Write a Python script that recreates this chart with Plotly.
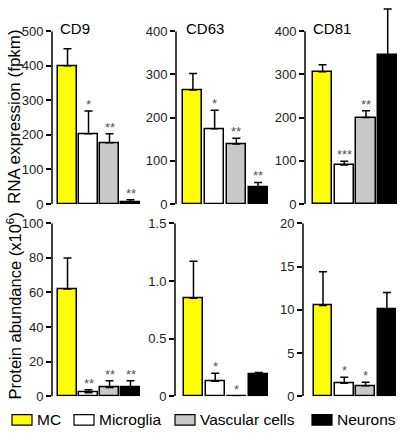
import plotly.graph_objects as go

W, H = 400, 438

categories = ["MC", "Microglia", "Vascular cells", "Neurons"]
colors = ["#FFFF00", "#FFFFFF", "#C8C8C8", "#000000"]

# RNA expression (fpkm)
cd9_rna = [400, 203, 177, 6]
cd9_rna_err = [49, 66, 26, 6]
cd63_rna = [264, 174, 139, 39]
cd63_rna_err = [38, 43, 13, 11]
cd81_rna = [306, 90, 200, 344]
cd81_rna_err = [16, 9, 16, 107]

# Protein abundance (x10^6)
cd9_prot = [62, 2, 5, 5]
cd9_prot_err = [18, 1.8, 4, 4]
cd63_prot = [0.85, 0.13, 0.003, 0.19]
cd63_prot_err = [0.32, 0.07, 0, 0.015]
cd81_prot = [10.5, 1.5, 1.2, 10.0]
cd81_prot_err = [3.9, 0.7, 0.4, 2.0]

cd9_rna_sig = ["", "*", "**", "**"]
cd63_rna_sig = ["", "*", "**", "**"]
cd81_rna_sig = ["", "***", "**", ""]
cd9_prot_sig = ["", "**", "**", "**"]
cd63_prot_sig = ["", "*", "*", ""]
cd81_prot_sig = ["", "*", "*", ""]

titles = ["CD9", "CD63", "CD81"]

rna_ticks = [[0, 100, 200, 300, 400, 500], [0, 100, 200, 300, 400], [0, 100, 200, 300, 400]]
rna_ticktext = [[str(v) for v in t] for t in rna_ticks]
prot_ticks = [[0, 20, 40, 60, 80, 100], [0, 0.5, 1.0, 1.5], [0, 5, 10, 15, 20]]
prot_ticktext = [["0", "20", "40", "60", "80", "100"], ["0", "0.5", "1.0", "1.5"], ["0", "5", "10", "15", "20"]]

panels = [
    # values, err, sig, ticks, ticktext, x px domain, xrange, y px (zero, top-of-axis), extra top px
    (cd9_rna, cd9_rna_err, cd9_rna_sig, rna_ticks[0], rna_ticktext[0], (52, 141), (-0.74, 3.5), (204, 25), 25),
    (cd63_rna, cd63_rna_err, cd63_rna_sig, rna_ticks[1], rna_ticktext[1], (176, 270), (-0.78, 3.55), (204, 25), 25),
    (cd81_rna, cd81_rna_err, cd81_rna_sig, rna_ticks[2], rna_ticktext[2], (305, 399), (-0.81, 3.52), (204, 25), 0),
    (cd9_prot, cd9_prot_err, cd9_prot_sig, prot_ticks[0], prot_ticktext[0], (52, 141), (-0.74, 3.5), (403, 224), 224),
    (cd63_prot, cd63_prot_err, cd63_prot_sig, prot_ticks[1], prot_ticktext[1], (175, 270), (-0.85, 3.52), (403, 224), 224),
    (cd81_prot, cd81_prot_err, cd81_prot_sig, prot_ticks[2], prot_ticktext[2], (303, 399), (-0.94, 3.57), (403, 224), 224),
]

FONT = "Liberation Sans, Arial, sans-serif"
fig = go.Figure()
annotations = []
shapes = []
layout = {}

for i, (vals, err, sig, tv, tt, xpx, xr, ypx, toppx) in enumerate(panels):
    n = i + 1
    xa = "x" if n == 1 else f"x{n}"
    ya = "y" if n == 1 else f"y{n}"
    xs = list(range(len(categories)))
    fig.add_trace(go.Bar(
        x=xs, y=vals, width=0.88, xaxis=xa, yaxis=ya,
        marker=dict(color=colors, line=dict(color="black", width=1.5)),
        error_y=dict(type="data", symmetric=False, array=err, arrayminus=[0] * len(err),
                     color="black", thickness=1.5, width=4),
        showlegend=False, hoverinfo="skip",
    ))
    zero_px, axtop_px = ypx
    ymax = tv[-1]
    scale = ymax / (zero_px - axtop_px)
    range_top = (zero_px - toppx) * scale
    ydom = [(H - zero_px) / H, (H - toppx) / H]
    xdom = [xpx[0] / W, xpx[1] / W]
    layout["xaxis" + ("" if n == 1 else str(n))] = dict(
        domain=xdom, range=list(xr), anchor=ya, visible=False, fixedrange=True)
    layout["yaxis" + ("" if n == 1 else str(n))] = dict(
        domain=ydom, range=[0, range_top], anchor=xa, showline=False, showgrid=False,
        zeroline=False, ticks="outside", ticklen=5, tickwidth=1.5, tickcolor="black",
        tickvals=tv, ticktext=tt, tickfont=dict(family=FONT, size=13, color="#222"),
        fixedrange=True)
    shapes.append(dict(type="line", xref=f"{xa} domain", yref=ya, x0=0, x1=0, y0=0, y1=ymax,
                       line=dict(color="black", width=1.5)))
    for j, s in enumerate(sig):
        if s:
            annotations.append(dict(x=xs[j], y=vals[j] + err[j], xref=xa, yref=ya, text=s,
                                    showarrow=False, yanchor="bottom", yshift=-3,
                                    font=dict(family=FONT, size=13, color="#555")))

for k, (t, xl) in enumerate(zip(titles, [58, 184, 311])):
    annotations.append(dict(x=xl / W, y=1 - 22 / H, xref="paper", yref="paper", text=t,
                            showarrow=False, xanchor="left", yanchor="middle",
                            font=dict(family=FONT, size=15, color="black")))

annotations.append(dict(x=14 / W, y=1 - 114 / H, xref="paper", yref="paper",
                        text="RNA expression (fpkm)", textangle=-90, showarrow=False,
                        xanchor="center", yanchor="middle",
                        font=dict(family=FONT, size=17, color="black")))
annotations.append(dict(x=14 / W, y=1 - 310 / H, xref="paper", yref="paper",
                        text="Protein abundance (x10<sup>6</sup>)", textangle=-90, showarrow=False,
                        xanchor="center", yanchor="middle",
                        font=dict(family=FONT, size=16.5, color="black")))

# manual legend
legend_box_x = [12, 74, 175, 312]
for c, col, bx in zip(categories, colors, legend_box_x):
    shapes.append(dict(type="rect", xref="paper", yref="paper",
                       x0=bx / W, x1=(bx + 20) / W, y0=1 - 433 / H, y1=1 - 422 / H,
                       fillcolor=col, line=dict(color="black", width=1.2)))
    annotations.append(dict(x=(bx + 23) / W, y=1 - 427.5 / H, xref="paper", yref="paper",
                            text=c, showarrow=False, xanchor="left", yanchor="middle",
                            font=dict(family=FONT, size=15.5, color="black")))

fig.update_layout(
    width=W, height=H, margin=dict(l=0, r=0, t=0, b=0),
    paper_bgcolor="white", plot_bgcolor="rgba(0,0,0,0)",
    annotations=annotations, shapes=shapes, bargap=0, **layout,
)

fig.write_html("out.html", config={"displayModeBar": False},
               post_script="document.body.style.margin='0';document.body.style.overflow='hidden';")
